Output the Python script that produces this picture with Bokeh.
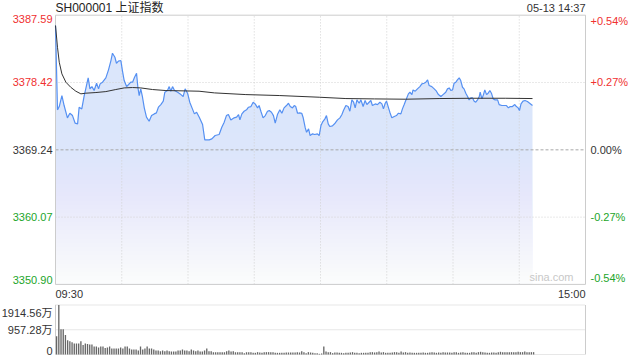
import numpy as np
from bokeh.plotting import figure
from bokeh.models import Range1d
from bokeh.core.properties import value
from bokeh.embed import file_html
from bokeh.resources import INLINE

# ---------------- data ----------------
TITLE = "SH000001 上证指数"
STAMP = "05-13 14:37"
PRE_CLOSE = 3369.24
PRICE_TICKS = [3387.59, 3378.42, 3369.24, 3360.07, 3350.90]
PRICE_LABELS = ["3387.59", "3378.42", "3369.24", "3360.07", "3350.90"]
PCT_LABELS = ["+0.54%", "+0.27%", "0.00%", "-0.27%", "-0.54%"]
VOL_TICKS = [1914.56, 957.28, 0]
VOL_LABELS = ["1914.56万", "957.28万", "0"]
TIME_LABELS = ["09:30", "15:00"]
SESSION_MIN = 240
GRID_MINUTES = [30, 60, 90, 120, 150, 180, 210]

# price line vertices: minute since 09:30 (trading minutes), price
price_min = [
    0, 0.9, 1.7, 2.9, 3.9, 5.4, 6.5, 7.7, 8.9, 10.0, 10.7, 11.9, 13.0, 13.7, 14.8, 15.6, 16.5, 17.5,
    18.6, 19.5, 20.2, 21.3, 22.8, 24.0, 25.1, 25.8, 26.9, 27.6, 28.5, 29.6, 30.3, 31.1, 32.2, 33.1,
    34.1, 34.9, 35.8, 36.7, 37.3, 37.9, 38.6, 39.4, 40.2, 41.2, 42.4, 43.5, 44.7, 45.7, 46.6, 47.7,
    48.8, 49.5, 50.7, 51.5, 52.2, 53.0, 53.9, 55.3, 56.8, 57.8, 58.7, 59.8, 60.8, 62.0, 62.9, 63.9,
    65.1, 66.6, 67.6, 69.6, 70.8,
    72.3, 74.1, 75.3, 76.4, 77.4, 78.3, 79.4, 80.9, 82.0, 82.9, 83.5, 84.4, 85.4, 86.5, 87.4, 88.5,
    89.5, 90.4, 91.5, 92.2, 93.0, 94.0, 95.0, 96.0, 96.8, 97.8, 98.7, 99.5, 100.5, 101.6, 102.5,
    103.5, 104.6, 105.5, 106.3, 107.3, 108.1, 108.8, 109.6, 110.6, 111.5, 112.1, 113.1, 113.7,
    114.6, 115.3, 116.4, 117.4, 118.6, 119.4, 120.2, 120.9, 122.0, 122.7, 123.5, 124.2, 125.4,
    126.6, 127.7, 128.8, 129.7, 130.4, 131.5, 132.5, 133.3, 134.2, 135.0, 135.7, 136.5, 137.5,
    138.3, 139.3, 140.2, 141.0, 142.0, 142.8, 143.5,
    144.8, 145.8, 146.9, 147.8, 148.5, 149.3, 149.9, 150.8, 151.4, 152.3, 153.4, 154.4, 155.3,
    156.4, 157.1, 157.9, 158.6, 159.8, 160.5, 161.4, 161.9, 162.9, 163.9, 165.0, 165.9, 166.9,
    167.7, 168.5, 169.2, 170.4, 171.5, 172.5, 173.4, 174.5, 175.5, 176.7, 177.5, 178.3, 179.0,
    179.8, 180.5, 181.3, 182.0, 182.8, 183.5, 184.3, 185.0, 185.8, 186.6, 187.3, 188.1, 188.8,
    189.6, 190.3, 191.1, 191.9, 192.3, 193.1, 193.8, 194.4, 195.2, 195.9, 196.7, 197.4, 198.2,
    199.1, 200.2, 200.9, 202.1, 203.2, 204.2, 205.1, 205.9, 206.9, 208.0, 208.7, 209.5, 210.1,
    210.8, 211.7, 212.6, 213.7, 214.7, 216.0,
]
price = [
    3386.18, 3374.69, 3375.14, 3376.64, 3375.28, 3373.60, 3374.23, 3373.91, 3372.87, 3372.78,
    3375.05, 3374.82, 3376.64, 3377.55, 3379.05, 3377.55, 3377.86, 3377.32, 3378.32, 3377.55,
    3378.23, 3378.46, 3379.05, 3380.14, 3381.41, 3382.41, 3381.86, 3381.04, 3381.32, 3381.41,
    3380.04, 3378.68, 3377.86, 3378.14, 3378.46, 3378.46, 3379.14, 3379.68, 3377.77, 3376.64,
    3377.55, 3376.41, 3374.96, 3373.69, 3373.14, 3373.91, 3374.14, 3374.28, 3375.05, 3375.41,
    3375.87, 3377.09, 3377.32, 3377.86, 3377.23, 3377.86, 3377.32, 3377.09, 3376.77, 3376.50,
    3377.55, 3376.96, 3375.73, 3374.82, 3374.14, 3374.37, 3373.69, 3372.69, 3370.60, 3370.60,
    3370.73,
    3371.19, 3371.33, 3372.32, 3373.01, 3373.91, 3374.05, 3373.32, 3373.60, 3373.69, 3374.05,
    3373.32, 3374.14, 3374.50, 3374.69, 3375.05, 3375.14, 3375.73, 3375.50, 3374.96, 3375.28,
    3374.50, 3373.60, 3373.91, 3374.50, 3374.59, 3374.37, 3373.91, 3372.87, 3374.05, 3374.69,
    3374.23, 3374.96, 3375.28, 3375.59, 3375.14, 3374.96, 3375.28, 3375.14, 3374.23, 3374.28,
    3374.23, 3373.69, 3372.23, 3371.64, 3372.10, 3371.19, 3371.42, 3371.33, 3371.42, 3371.19,
    3372.55, 3373.01, 3373.46, 3373.91, 3372.78, 3372.42, 3372.51, 3372.87, 3373.32, 3373.60,
    3374.05, 3374.59, 3375.28, 3375.14, 3374.50, 3376.05, 3375.73, 3374.96, 3376.05, 3375.59,
    3376.05, 3375.14, 3375.96, 3375.41, 3375.73, 3375.96, 3375.28,
    3375.50, 3375.41, 3375.73, 3375.50, 3374.82, 3375.59, 3375.87, 3374.96, 3374.37, 3373.60,
    3373.78, 3373.91, 3374.23, 3374.14, 3374.82, 3375.41, 3375.96, 3376.87, 3377.09, 3376.77,
    3377.41, 3377.23, 3377.55, 3377.86, 3378.23, 3378.32, 3378.46, 3378.77, 3378.00, 3377.86,
    3377.55, 3377.23, 3376.77, 3376.50, 3376.77, 3377.09, 3377.55, 3377.68, 3377.32, 3377.41,
    3378.32, 3378.46, 3378.77, 3379.05, 3378.68, 3377.77, 3377.55, 3376.96, 3376.50, 3376.05,
    3376.32, 3376.32, 3375.87, 3375.73, 3376.05, 3376.50, 3377.09, 3376.18, 3376.77, 3377.41,
    3376.77, 3376.96, 3377.32, 3376.96, 3376.18, 3376.05, 3376.05, 3375.41, 3375.28, 3375.28,
    3375.28, 3374.96, 3375.14, 3375.14, 3375.41, 3375.14, 3374.96, 3374.59, 3375.50, 3375.87,
    3375.96, 3375.82, 3375.59, 3375.28,
]

# average price line vertices
avg_min = [0, 0.9, 1.7, 2.9, 4.7, 6.9, 9.2, 11.5, 13.7, 18.3, 22.8, 27.3, 31.1, 34.9, 38.6,
           43.9, 50.0, 59.0, 65.0, 72.0, 86.2, 101.3, 119.4, 131.5, 144.5, 158.6, 173.7,
           188.8, 203.9, 216.0]
avg_price = [3386.18, 3383.22, 3381.18, 3379.59, 3378.46, 3377.77, 3377.23, 3376.87, 3376.96,
             3377.05, 3377.18, 3377.46, 3377.68, 3377.73, 3377.68, 3377.46, 3377.32, 3377.27,
             3377.23, 3377.00, 3376.77, 3376.64, 3376.41, 3376.23, 3376.18, 3376.14, 3376.23,
             3376.27, 3376.27, 3376.23]

# per-minute volume (万)
volume = [
    703, 1914.56, 977, 977, 755, 547, 508, 469, 430, 430,
    430, 508, 365, 430, 404, 391, 391, 313, 313, 274,
    313, 313, 247, 274, 313, 234, 234, 234, 234, 274,
    234, 313, 313, 234, 195, 195, 195, 156, 313, 195,
    234, 313, 234, 234, 195, 156, 156, 130, 156, 130,
    156, 130, 117, 117, 117, 156, 156, 195, 156, 156,
    130, 195, 156, 130, 156, 117, 117, 156, 234, 130,
    130, 91, 91, 91, 91, 91, 91, 130, 156, 117,
    130, 91, 91, 91, 91, 52, 91, 91, 91, 65,
    65, 91, 78, 65, 91, 91, 91, 91, 91, 65,
    65, 65, 65, 65, 78, 78, 78, 78, 78, 91,
    78, 130, 91, 52, 91, 78, 65, 52, 52, 26,
    40, 313, 117, 91, 91, 52, 78, 78, 65, 65,
    52, 65, 65, 78, 91, 65, 65, 52, 65, 65,
    65, 65, 91, 91, 78, 91, 117, 78, 91, 65,
    65, 65, 78, 91, 91, 65, 117, 78, 91, 65,
    78, 65, 65, 65, 65, 65, 78, 65, 65, 78,
    91, 78, 65, 78, 65, 91, 78, 78, 78, 65,
    91, 91, 65, 78, 91, 65, 65, 65, 91, 91,
    65, 91, 104, 91, 78, 65, 65, 78, 78, 65,
    91, 104, 91, 91, 91, 91, 91, 91, 91, 104,
    91, 91, 117, 91, 91, 91, 91,
]

# ---------------- styles / layout ----------------
RED, GREEN, DARK = "#f03030", "#22a52a", "#333333"
LABEL_COLORS = [RED, RED, DARK, GREEN, GREEN]
FONT = value("Liberation Sans")
CJK_FONT = value("Liberation Sans, Noto Sans CJK SC")

W, H = 640, 360
X0, X1 = 55, 585          # plot frame columns
PT, PB = 14.7, 283.9      # price panel rows
VT, VB = 304.5, 354.0     # volume panel rows

PMAX, PMIN = PRICE_TICKS[0], PRICE_TICKS[-1]
VMAX = VOL_TICKS[0]
s = SESSION_MIN / (X1 - X0)
kp = (PMAX - PMIN) / (PB - PT)
kv = VMAX / (VB - VT)


def py(ypx):
    return PMAX - (ypx - PT) * kp


def vy(ypx):
    return VMAX - (ypx - VT) * kv


def mx(xpx):
    return (xpx - X0) * s


p = figure(width=W, height=H, title=None,
           x_range=Range1d(mx(0), mx(W)), y_range=Range1d(py(H), py(0)),
           x_axis_type=None, y_axis_type=None, toolbar_location=None,
           output_backend="svg", min_border=0, outline_line_color=None,
           background_fill_color="white", border_fill_color="white")
p.extra_y_ranges = {"vol": Range1d(vy(H), vy(0))}

pm = np.array(price_min, dtype=float)
pp = np.array(price, dtype=float)

# area under the price line with a vertical fade to white
p.varea(x=pm, y1=PMIN, y2=pp, fill_color=(219, 230, 251))
N = 64
h = (PMAX - PMIN) / N
tops = PMAX - np.arange(N) * h
r = 1 - 0.97 * (np.arange(N) + 0.5) / N
prev = np.concatenate([[1.0], r[:-1]])
alphas = 1 - r / prev
p.quad(left=0, right=SESSION_MIN, bottom=PMIN, top=tops, fill_color="white",
       fill_alpha=alphas, line_color=None)

# grid lines
p.segment(x0=GRID_MINUTES, y0=PMIN, x1=GRID_MINUTES, y1=PMAX,
          line_color="#d2d2d2", line_dash="1 2", line_width=1)
hg = [PRICE_TICKS[1], PRICE_TICKS[3]]
p.segment(x0=0, y0=hg, x1=SESSION_MIN, y1=hg, line_color="#d2d2d2", line_dash="1 2", line_width=1)
p.segment(x0=[0], y0=[PRICE_TICKS[2]], x1=[SESSION_MIN], y1=[PRICE_TICKS[2]],
          line_color="#a8a8a8", line_dash="3 2", line_width=1)

# borders
p.quad(left=0, right=SESSION_MIN, bottom=PMIN, top=PMAX, fill_color=None, line_color="#cccccc")
p.segment(x0=0, y0=VOL_TICKS, x1=SESSION_MIN, y1=VOL_TICKS, line_color="#cfcfcf",
          line_dash="1 1", line_width=1, y_range_name="vol")
p.segment(x0=[0, SESSION_MIN], y0=0, x1=[0, SESSION_MIN], y1=VMAX, line_color="#cccccc",
          y_range_name="vol")

# volume bars
vx = np.arange(len(volume)) + 0.5
p.vbar(x=vx, top=volume, bottom=0, width=0.6, fill_color="#666666", line_color=None,
       y_range_name="vol")

# lines
p.line(pm, pp, line_color="#5590f2", line_width=1.2)
p.line(avg_min, avg_price, line_color="#333333", line_width=1)

# price tick labels (left) and percent labels (right)
fs = "11px"
for idxs, base in (([0], "top"), ([1, 2, 3], "middle"), ([4], "bottom")):
    ys = [PRICE_TICKS[i] for i in idxs]
    cols = [LABEL_COLORS[i] for i in idxs]
    p.text(x=[0] * len(idxs), y=ys, text=[PRICE_LABELS[i] for i in idxs],
           text_align="right", text_baseline=base, x_offset=-3, text_color=cols,
           text_font=FONT, text_font_size=fs)
    p.text(x=[SESSION_MIN] * len(idxs), y=ys, text=[PCT_LABELS[i] for i in idxs],
           text_align="left", text_baseline=base, x_offset=5, text_color=cols,
           text_font=FONT, text_font_size=fs)

# volume labels
for i, base, yo in ((0, "top", 2), (1, "middle", 0), (2, "bottom", 0)):
    p.text(x=[0], y=[VOL_TICKS[i]], text=[VOL_LABELS[i]], text_align="right",
           text_baseline=base, x_offset=-3, y_offset=yo, text_color=DARK,
           text_font=CJK_FONT, text_font_size=fs, y_range_name="vol")

# title, time stamp, session labels, watermark
p.text(x=[0], y=[py(7.7)], text=[TITLE], text_align="left", text_baseline="middle",
       text_color="#222222", text_font=CJK_FONT, text_font_size="12px")
p.text(x=[SESSION_MIN], y=[py(7.8)], text=[STAMP], text_align="right", text_baseline="middle",
       text_color="#333333", text_font=FONT, text_font_size=fs)
p.text(x=[0, SESSION_MIN], y=[py(293.6)] * 2, text=TIME_LABELS, text_align=["left", "right"],
       text_baseline="middle", text_color="#333333", text_font=FONT, text_font_size=fs)
p.text(x=[mx(573)], y=[PMIN], text=["sina.com"], text_align="right", text_baseline="bottom",
       y_offset=-1, text_color="#c8c8c8", text_font=FONT, text_font_size=fs)

open("out.html", "w").write(file_html(p, INLINE))
